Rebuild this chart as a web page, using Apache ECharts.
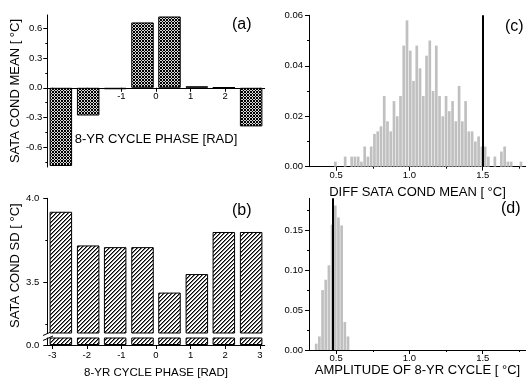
<!DOCTYPE html>
<html lang="en">
<head>
    <meta charset="utf-8">
    <title>sata cond</title>
    <script src="https://cdn.jsdelivr.net/npm/echarts@6/dist/echarts.min.js"></script>
    <style>html,body{margin:0;padding:0;background:#fff;}</style>
</head>
<body>
<div id="chart" style="width:526px;height:380px;"></div>
<script>
    // (a), (b): 8 phase bins of the 8-yr cycle, bin centres in rad
    var phaseCenters = [-2.75, -1.96, -1.18, -0.39, 0.39, 1.18, 1.96, 2.75];
    var condMean = [-0.79, -0.28, -0.015, 0.66, 0.72, 0.015, 0.005, -0.39];
    var condSD = [3.92, 3.72, 3.71, 3.71, 3.44, 3.55, 3.80, 3.80];

    // (c) histogram of the difference of cond. means
    var diffBinStart = 0.495;
    var diffBinWidth = 0.0222;
    var diffFreq = [0.002, 0, 0, 0.004, 0, 0.004, 0.004, 0.004, 0.002, 0.008,
        0.004, 0.008, 0.013, 0.014, 0.016, 0.028, 0.018, 0.014, 0.026, 0.020,
        0.028, 0.048, 0.058, 0.046, 0.034, 0.048, 0.039, 0.028, 0.044, 0.050,
        0.030, 0.048, 0.028, 0.020, 0.028, 0.022, 0.026, 0.018, 0.032, 0.018,
        0.026, 0.014, 0.014, 0.010, 0.012, 0.008, 0.008, 0.004, 0, 0.004,
        0, 0.006, 0.008, 0.002, 0.002, 0, 0, 0.002];
    var diffObserved = 1.505;

    // (d) histogram of the cycle amplitude
    var ampBinStart = 0.364;
    var ampBinWidth = 0.0217;
    var ampFreq = [0.008, 0.017, 0.075, 0.088, 0.106, 0.157, 0.181, 0.166, 0.156, 0.035, 0.017];
    var ampObserved = 0.485;

    // tick labels
    var phaseTicks = [-3, -2, -1, 0, 1, 2, 3];
    var phaseLabelsA = [-1, 0, 1, 2];
    var meanTicks = [-0.6, -0.3, 0, 0.3, 0.6];
    var meanMinor = [-0.75, -0.45, -0.15, 0.15, 0.45];
    var sdTicks = [3.5, 4.0];
    var sdMinor = [3.25, 3.75];
    var sdLowTicks = [0];
    var diffYTicks = [0, 0.02, 0.04, 0.06];
    var diffYMinor = [0.01, 0.03, 0.05];
    var ampYTicks = [0, 0.05, 0.10, 0.15];
    var ampYMinor = [0.025, 0.075, 0.125, 0.175];
    var tempTicks = [0.5, 1.0, 1.5];
    var tempMinor = [0.75, 1.25, 1.75];

    var FONT = 'Liberation Sans';

    function hatch(size, pick) {
        var c = document.createElement('canvas');
        c.width = size; c.height = size;
        var ctx = c.getContext('2d');
        ctx.fillStyle = '#fff';
        ctx.fillRect(0, 0, size, size);
        for (var x = 0; x < size; x++) {
            for (var y = 0; y < size; y++) {
                var col = pick(x, y);
                if (col) { ctx.fillStyle = col; ctx.fillRect(x, y, 1, 1); }
            }
        }
        return {image: c, repeat: 'repeat'};
    }
    var crossFill = hatch(3, function (x, y) {
        if ((x + y) % 3 === 0 || (x - y + 3) % 3 === 0) return '#000';
        return '#d8d8d8';
    });
    var slashFill = hatch(4, function (x, y) {
        var k = (x + y) % 4;
        return k === 0 ? '#000' : (k === 1 ? '#777' : null);
    });

    function fmt(d) { return function (v) { return Number(v).toFixed(d); }; }

    function mainAxis(grid, min, max, ticks, labels, dec, extra) {
        var ax = {
            type: 'value', gridIndex: grid, min: min, max: max,
            splitLine: {show: false},
            axisLine: {show: true, onZero: false, lineStyle: {color: '#000', width: 1}},
            axisTick: {show: true, length: 4, customValues: ticks, lineStyle: {color: '#000'}},
            axisLabel: {customValues: labels, fontSize: 9.5, color: '#000', fontFamily: FONT,
                margin: 5, formatter: fmt(dec)},
            nameTextStyle: {fontSize: 13, color: '#000', fontFamily: FONT}
        };
        return Object.assign(ax, extra || {});
    }
    function minorAxis(grid, min, max, ticks, extra) {
        var ax = {
            type: 'value', gridIndex: grid, min: min, max: max,
            splitLine: {show: false},
            axisLine: {show: false, onZero: false},
            axisTick: {show: true, length: 2, customValues: ticks, lineStyle: {color: '#000'}},
            axisLabel: {show: false}
        };
        return Object.assign(ax, extra || {});
    }

    var PI = Math.PI;
    var meanMin = -0.8, meanMax = 0.735;
    var gridA = {left: 47.3, top: 15, width: 217.4, height: 152};
    // the phase axis of (a) sits on the zero line
    var zeroOffset = -gridA.height * (0 - meanMin) / (meanMax - meanMin);

    var xAxes = [
        // 0: (a)
        mainAxis(0, -PI, PI, phaseTicks, phaseLabelsA, 0, {
            position: 'bottom', offset: zeroOffset,
            name: '8-YR CYCLE PHASE [RAD]', nameLocation: 'middle', nameGap: 45
        }),
        // 1: (b) upper, hidden
        {type: 'value', gridIndex: 1, min: -PI, max: PI, show: false, position: 'bottom'},
        // 2: (b) lower
        mainAxis(2, -PI, PI, phaseTicks, phaseTicks, 0, {
            position: 'bottom',
            name: '8-YR CYCLE PHASE [RAD]', nameLocation: 'middle', nameGap: 22,
            nameTextStyle: {fontSize: 11.5, color: '#000', fontFamily: FONT}
        }),
        // 3,4: (c)
        mainAxis(3, 0.315, 1.795, tempTicks, tempTicks, 1, {
            position: 'bottom',
            name: 'DIFF SATA COND MEAN [ °C]', nameLocation: 'middle', nameGap: 19
        }),
        minorAxis(3, 0.315, 1.795, tempMinor, {position: 'bottom'}),
        // 5,6: (d)
        mainAxis(4, 0.315, 1.795, tempTicks, tempTicks, 1, {
            position: 'bottom',
            name: 'AMPLITUDE OF 8-YR CYCLE [ °C]', nameLocation: 'middle', nameGap: 10
        }),
        minorAxis(4, 0.315, 1.795, tempMinor, {position: 'bottom'})
    ];
    xAxes[0].axisLabel.margin = 4;
    xAxes[3].axisLabel.margin = 4;
    xAxes[5].axisLabel.margin = 3;

    var yAxes = [
        // 0,1: (a)
        mainAxis(0, meanMin, meanMax, meanTicks, meanTicks, 1, {
            position: 'left',
            name: 'SATA COND MEAN [ °C]', nameLocation: 'middle', nameGap: 24
        }),
        minorAxis(0, meanMin, meanMax, meanMinor, {position: 'left'}),
        // 2,3: (b) upper
        mainAxis(1, 3.2, 4.0, sdTicks, sdTicks, 1, {
            position: 'left',
            name: 'SATA COND SD [ °C]', nameLocation: 'middle', nameGap: 23
        }),
        minorAxis(1, 3.2, 4.0, sdMinor, {position: 'left'}),
        // 4: (b) lower
        mainAxis(2, 0, 0.2, sdLowTicks, sdLowTicks, 1, {position: 'left'}),
        // 5,6: (c)
        mainAxis(3, 0, 0.06, diffYTicks, diffYTicks, 2, {position: 'left'}),
        minorAxis(3, 0, 0.06, diffYMinor, {position: 'left'}),
        // 7,8: (d)
        mainAxis(4, 0, 0.19, ampYTicks, ampYTicks, 2, {position: 'left'}),
        minorAxis(4, 0, 0.19, ampYMinor, {position: 'left'})
    ];
    yAxes[2].axisLabel.margin = 8;
    yAxes[4].axisLabel.margin = 8;
    yAxes[5].axisLabel.margin = 6;
    yAxes[7].axisLabel.margin = 6;

    function pairs(xs, ys) {
        return ys.map(function (v, i) { return [xs[i], v]; });
    }
    function binned(start, width, ys) {
        return ys.map(function (v, i) { return [start + i * width, v]; });
    }
    function refLine(x) {
        return {
            silent: true, symbol: 'none', label: {show: false},
            lineStyle: {color: '#000', width: 2, type: 'solid'},
            data: [{xAxis: x}]
        };
    }

    var hatchBar = {borderColor: '#000', borderWidth: 1};
    var letterStyle = {fontSize: 16, fontWeight: 'normal', color: '#000', fontFamily: FONT};

    var chart = echarts.init(document.getElementById('chart'));
    chart.setOption({
        animation: false,
        backgroundColor: '#fff',
        title: [
            {text: '(a)', left: 232, top: 17, padding: 0, textStyle: letterStyle},
            {text: '(b)', left: 232, top: 203, padding: 0, textStyle: letterStyle},
            {text: '(c)', left: 505, top: 19, padding: 0, textStyle: letterStyle},
            {text: '(d)', left: 501, top: 201, padding: 0, textStyle: letterStyle}
        ],
        grid: [
            gridA,
            {left: 47.3, top: 198.3, width: 217.4, height: 134.7},
            {left: 47.3, top: 338, width: 217.4, height: 11.3},
            {left: 309, top: 15.3, width: 218, height: 151.4},
            {left: 309, top: 198.3, width: 218, height: 151.7}
        ],
        xAxis: xAxes,
        yAxis: yAxes,
        graphic: [
            {type: 'line', shape: {x1: 43, y1: 335.5, x2: 53, y2: 331}, style: {stroke: '#000', lineWidth: 1}},
            {type: 'line', shape: {x1: 43, y1: 340.5, x2: 53, y2: 336}, style: {stroke: '#000', lineWidth: 1}}
        ],
        series: [
            {
                type: 'bar', xAxisIndex: 0, yAxisIndex: 0, barWidth: 22.5,
                data: pairs(phaseCenters, condMean),
                itemStyle: Object.assign({color: crossFill}, hatchBar)
            },
            {
                type: 'bar', xAxisIndex: 1, yAxisIndex: 2, barWidth: 22.5,
                data: pairs(phaseCenters, condSD),
                itemStyle: Object.assign({color: slashFill}, hatchBar)
            },
            {
                type: 'bar', xAxisIndex: 2, yAxisIndex: 4, barWidth: 22.5,
                data: pairs(phaseCenters, condSD),
                itemStyle: Object.assign({color: slashFill}, hatchBar)
            },
            {
                type: 'bar', xAxisIndex: 3, yAxisIndex: 5, barWidth: 2.7,
                data: binned(diffBinStart, diffBinWidth, diffFreq),
                itemStyle: {color: '#c0c0c0'},
                markLine: refLine(diffObserved)
            },
            {
                type: 'bar', xAxisIndex: 5, yAxisIndex: 7, barWidth: 2.7,
                data: binned(ampBinStart, ampBinWidth, ampFreq),
                itemStyle: {color: '#c0c0c0'},
                markLine: refLine(ampObserved)
            }
        ]
    });
</script>
</body>
</html>
